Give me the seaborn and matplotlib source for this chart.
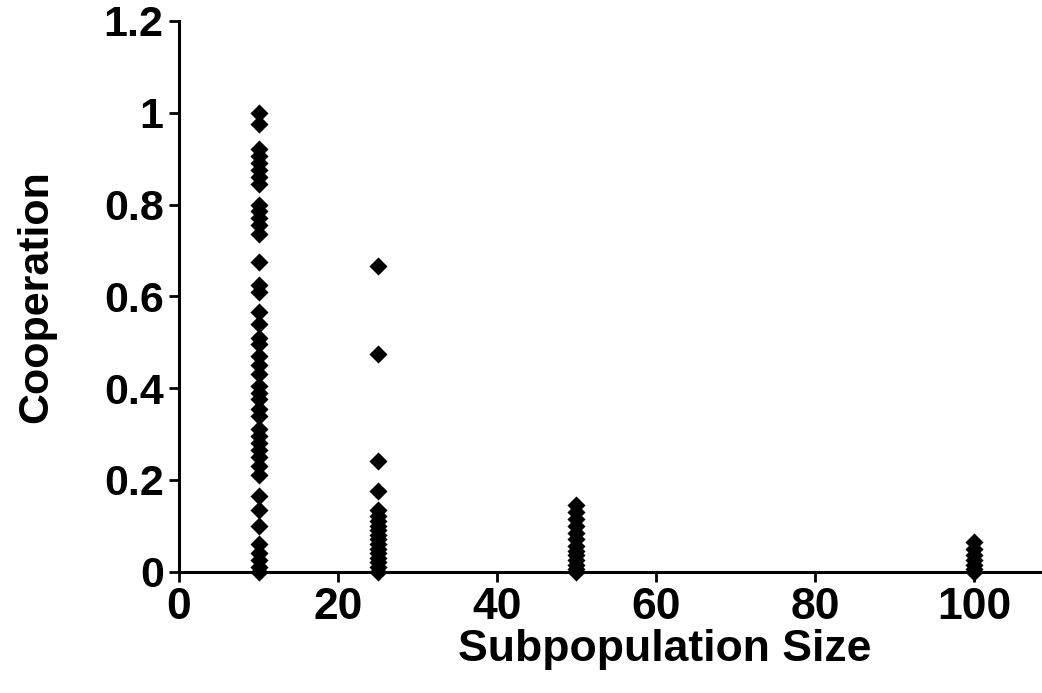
import matplotlib
matplotlib.use("Agg")
import matplotlib.pyplot as plt
import numpy as np
import pandas as pd
import seaborn as sns

# Cooperation levels observed for each subpopulation size
size_10 = [1.00, 0.975, 0.92, 0.905, 0.89, 0.875, 0.86, 0.845, 0.80, 0.785, 0.77,
           0.755, 0.735, 0.675, 0.625, 0.61, 0.565, 0.54, 0.51, 0.495, 0.47, 0.45,
           0.43, 0.405, 0.39, 0.375, 0.355, 0.34, 0.31, 0.295, 0.28, 0.265, 0.25,
           0.23, 0.21, 0.165, 0.135, 0.10, 0.06, 0.04, 0.025, 0.01, 0.0]
size_25 = [0.665, 0.475, 0.24, 0.175, 0.135, 0.12, 0.11, 0.10, 0.09, 0.08, 0.07,
           0.06, 0.05, 0.04, 0.03, 0.02, 0.01, 0.0]
size_50 = [0.145, 0.13, 0.115, 0.10, 0.085, 0.07, 0.055, 0.045, 0.035, 0.025,
           0.015, 0.005, 0.0]
size_100 = [0.065, 0.05, 0.035, 0.025, 0.015, 0.005, 0.0]

x_ticks = [0, 20, 40, 60, 80, 100]
y_ticks = [0, 0.2, 0.4, 0.6, 0.8, 1.0, 1.2]
y_tick_labels = ["0", "0.2", "0.4", "0.6", "0.8", "1", "1.2"]

groups = {10: size_10, 25: size_25, 50: size_50, 100: size_100}
df = pd.DataFrame(
    [(k, v) for k, vals in groups.items() for v in vals],
    columns=["Subpopulation Size", "Cooperation"],
)

sns.set_style("white")
plt.rcParams["font.family"] = ["Liberation Sans", "DejaVu Sans"]
plt.rcParams["font.weight"] = "bold"
plt.rcParams["text.color"] = "black"
plt.rcParams["axes.labelcolor"] = "black"
plt.rcParams["xtick.color"] = "black"
plt.rcParams["ytick.color"] = "black"

fig = plt.figure(figsize=(10.42, 6.93), dpi=100)
ax = fig.add_axes([0.1718, 0.1753, 0.8262, 0.7944])

sns.scatterplot(data=df, x="Subpopulation Size", y="Cooperation", marker="D",
                s=85, color="black", edgecolor="black", linewidth=0, ax=ax,
                clip_on=False, zorder=3)

ax.set_xlim(0, 108.3)
ax.set_ylim(0, 1.2)
ax.set_xticks(x_ticks)
ax.set_yticks(y_ticks)
ax.set_xticklabels([str(t) for t in x_ticks], fontsize=32, fontweight="bold")
ax.set_yticklabels(y_tick_labels, fontsize=31, fontweight="bold")
ax.set_xlabel("Subpopulation Size", fontsize=32, fontweight="bold")
ax.set_ylabel("Cooperation", fontsize=31, fontweight="bold", labelpad=34)
ax.xaxis.set_label_coords(0.564, -0.105)

for side in ["top", "right"]:
    ax.spines[side].set_visible(False)
for side in ["left", "bottom"]:
    ax.spines[side].set_color("black")
    ax.spines[side].set_linewidth(2.2)
ax.tick_params(axis="both", which="major", direction="out", length=7,
               width=2, color="black", left=True, bottom=True, pad=4)

fig.savefig("out.png", dpi=100)
